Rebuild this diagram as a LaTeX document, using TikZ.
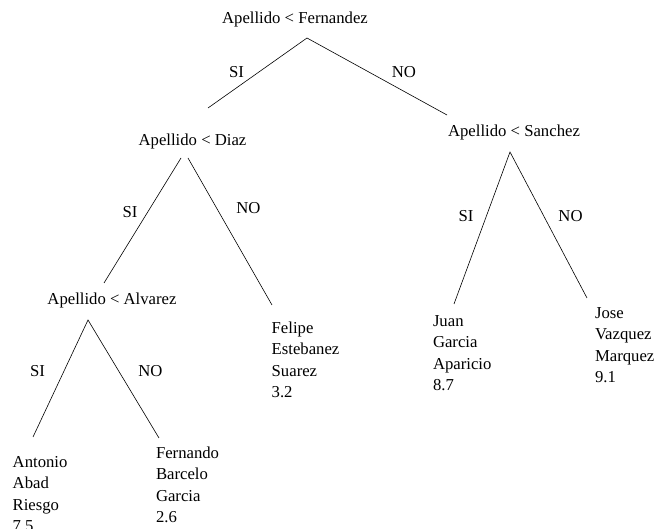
\documentclass[tikz,border=0pt]{standalone}
\usepackage{fontspec}
\setmainfont{Liberation Serif}
\begin{document}
\begin{tikzpicture}[x=1pt,y=-1pt,
  every node/.style={inner sep=0pt,outer sep=0pt,font=\fontsize{16.7}{21.3}\selectfont},
  test/.style={anchor=base},
  branch/.style={anchor=base},
  % leaves are placed by the baseline of their last line
  leaf/.style={anchor=base west,align=left},
  edge/.style={draw=black,line width=0.6pt}]
\useasboundingbox (0,0) rectangle (657,529);

% decision nodes
\node[test] (fer) at (295,23.5) {Apellido < Fernandez};
\node[test] (dia) at (192.5,145.5) {Apellido < Diaz};
\node[test] (alv) at (112,304.5) {Apellido < Alvarez};
\node[test] (san) at (514,137) {Apellido < Sanchez};

% branch labels
\node[branch] (ferSI) at (236.5,77.5) {SI};
\node[branch] (ferNO) at (404,77.5) {NO};
\node[branch] (diaSI) at (130,217.5) {SI};
\node[branch] (diaNO) at (248.5,213.5) {NO};
\node[branch] (alvSI) at (37.5,376.5) {SI};
\node[branch] (alvNO) at (150.5,376.5) {NO};
\node[branch] (sanSI) at (466,221.5) {SI};
\node[branch] (sanNO) at (570.5,221.5) {NO};

% leaves
\node[leaf] (antonio) at (12.7,531.4) {Antonio\\Abad\\Riesgo\\7.5};
\node[leaf] (fernando) at (156,522.4) {Fernando\\Barcelo\\Garcia\\2.6};
\node[leaf] (felipe) at (271.7,397.5) {Felipe\\Estebanez\\Suarez\\3.2};
\node[leaf] (juan) at (433,390.4) {Juan\\Garcia\\Aparicio\\8.7};
\node[leaf] (jose) at (595,382.4) {Jose\\Vazquez\\Marquez\\9.1};

% branch end points
\coordinate (ferT) at (307,38);
\coordinate (ferL) at (208,108);
\coordinate (ferR) at (447,115);
\coordinate (diaTL) at (181,158);
\coordinate (diaTR) at (188,158);
\coordinate (diaL) at (104,283);
\coordinate (diaR) at (272,305);
\coordinate (alvT) at (88,320);
\coordinate (alvL) at (33,437);
\coordinate (alvR) at (159,438);
\coordinate (sanT) at (510,152);
\coordinate (sanL) at (454,304);
\coordinate (sanR) at (587,298);

\draw[edge] (ferL) -- (ferT) -- (ferR);
\draw[edge] (diaTL) -- (diaL);
\draw[edge] (diaTR) -- (diaR);
\draw[edge] (alvL) -- (alvT) -- (alvR);
\draw[edge] (sanL) -- (sanT) -- (sanR);
\end{tikzpicture}
\end{document}
